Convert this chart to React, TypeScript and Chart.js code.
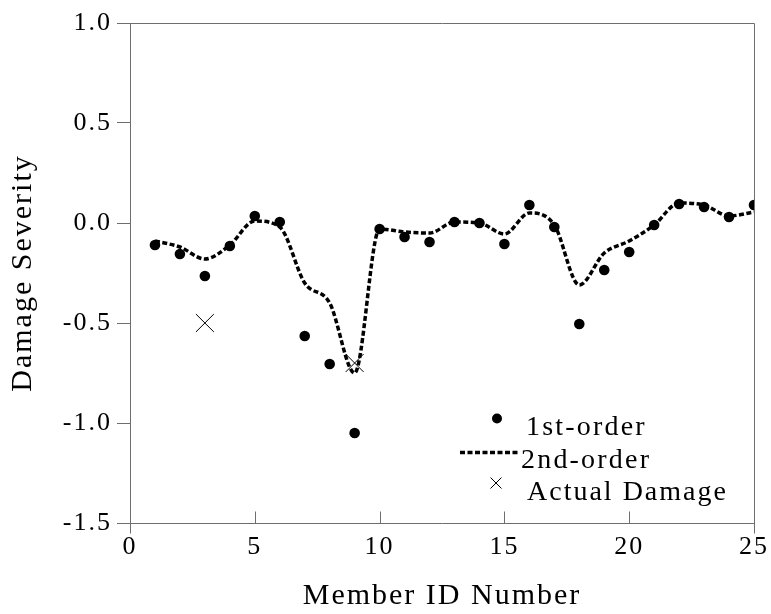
import React, { useEffect, useRef } from 'react';
import { Chart, registerables } from 'chart.js';

Chart.register(...registerables);

// ---- data ----
const memberIds = [1, 2, 3, 4, 5, 6, 7, 8, 9, 10, 11, 12, 13, 14, 15, 16, 17, 18, 19, 20, 21, 22, 23, 24, 25];
const firstOrder = [-0.11, -0.155, -0.265, -0.115, 0.035, 0.005, -0.565, -0.705, -1.05, -0.03, -0.07, -0.095, 0.005, 0.0, -0.105, 0.09, -0.02, -0.505, -0.235, -0.145, -0.01, 0.095, 0.08, 0.03, 0.09];
const secondOrder = [-0.09, -0.12, -0.18, -0.11, 0.01, -0.02, -0.3, -0.4, -0.75, -0.03, -0.045, -0.05, 0.005, 0.0, -0.055, 0.05, -0.01, -0.31, -0.15, -0.09, -0.01, 0.1, 0.09, 0.035, 0.055];
const actualIds = [3, 9];
const actualDamage = [-0.5, -0.7];
const xTicks = [0, 5, 10, 15, 20, 25];
const yTicks = [-1.5, -1.0, -0.5, 0.0, 0.5, 1.0];
const seriesNames = ['1st-order', '2nd-order', 'Actual Damage'];

const SERIF = '"Liberation Serif", "Times New Roman", serif';
const AXIS = '#6e6e6e';

const framePlugin = {
  id: 'frame',
  beforeDraw(chart: any) {
    chart.ctx.letterSpacing = '2px';
  },
  afterDatasetsDraw(chart: any) {
    const { ctx, chartArea, scales } = chart;
    const { left, right, top, bottom } = chartArea;
    const x = scales.x;
    ctx.save();
    ctx.strokeStyle = AXIS;
    ctx.lineWidth = 1;
    ctx.beginPath();
    const t = Math.round(top) + 0.5;
    const r = Math.round(right) + 0.5;
    const l = Math.round(left) + 0.5;
    const b = Math.round(bottom) + 0.5;
    ctx.moveTo(l, t);
    ctx.lineTo(r, t);
    ctx.moveTo(r, t);
    ctx.lineTo(r, b + 10);
    ctx.moveTo(l, b);
    ctx.lineTo(l, b + 10);
    xTicks.forEach((v) => {
      if (v === xTicks[0] || v === xTicks[xTicks.length - 1]) return;
      const px = Math.round(x.getPixelForValue(v)) + 0.5;
      ctx.moveTo(px, b);
      ctx.lineTo(px, b - 12);
    });
    ctx.stroke();
    ctx.restore();
  },
  afterDraw(chart: any) {
    const { ctx, chartArea } = chart;
    const { right, bottom } = chartArea;
    ctx.save();
    ctx.letterSpacing = '2.2px';
    ctx.fillStyle = '#000';
    ctx.strokeStyle = '#000';
    ctx.font = `28px ${SERIF}`;
    ctx.textAlign = 'left';
    ctx.textBaseline = 'alphabetic';
    // 1st-order marker
    ctx.beginPath();
    ctx.arc(right - 257, bottom - 104.5, 5, 0, Math.PI * 2);
    ctx.fill();
    ctx.fillText(seriesNames[0], right - 228, bottom - 88);
    // 2nd-order sample
    ctx.beginPath();
    ctx.lineWidth = 3.5;
    ctx.setLineDash([5, 2.5]);
    ctx.moveTo(right - 294, bottom - 70.5);
    ctx.lineTo(right - 234, bottom - 70.5);
    ctx.stroke();
    ctx.setLineDash([]);
    ctx.fillText(seriesNames[1], right - 233, bottom - 55);
    // Actual damage marker
    ctx.beginPath();
    ctx.lineWidth = 1;
    const cx = right - 258, cy = bottom - 40, h = 5.5;
    ctx.moveTo(cx - h, cy - h);
    ctx.lineTo(cx + h, cy + h);
    ctx.moveTo(cx + h, cy - h);
    ctx.lineTo(cx - h, cy + h);
    ctx.stroke();
    ctx.letterSpacing = '2px';
    ctx.fillText(seriesNames[2], right - 227, bottom - 23);
    ctx.restore();
  },
};

export default function App() {
  const canvasRef = useRef<HTMLCanvasElement | null>(null);

  useEffect(() => {
    const canvas = canvasRef.current;
    if (!canvas) return;
    const chart = new Chart(canvas, {
      type: 'line',
      data: {
        datasets: [
          {
            label: seriesNames[1],
            data: memberIds.map((id, i) => ({ x: id, y: secondOrder[i] })),
            borderColor: '#000',
            backgroundColor: '#000',
            borderWidth: 3.5,
            borderDash: [5, 2.5],
            pointRadius: 0,
            cubicInterpolationMode: 'monotone',
            showLine: true,
            fill: false,
            order: 2,
          },
          {
            label: seriesNames[0],
            data: memberIds.map((id, i) => ({ x: id, y: firstOrder[i] })),
            borderColor: '#000',
            backgroundColor: '#000',
            showLine: false,
            pointStyle: 'circle',
            pointRadius: 5.3,
            pointBorderWidth: 0,
            order: 1,
          },
          {
            label: seriesNames[2],
            data: actualIds.map((id, i) => ({ x: id, y: actualDamage[i] })),
            borderColor: '#000',
            backgroundColor: '#000',
            showLine: false,
            pointStyle: 'crossRot',
            pointRadius: 12.7,
            pointBorderWidth: 1,
            order: 0,
          },
        ],
      } as any,
      options: {
        responsive: false,
        maintainAspectRatio: false,
        devicePixelRatio: 1,
        animation: false,
        events: [],
        layout: { padding: { top: 23, right: 17, bottom: 0, left: 0 } },
        plugins: {
          legend: { display: false },
          tooltip: { enabled: false },
          title: { display: false },
        },
        scales: {
          x: {
            type: 'linear',
            min: 0,
            max: 25,
            afterBuildTicks: (s: any) => {
              s.ticks = xTicks.map((v) => ({ value: v }));
            },
            afterFit: (s: any) => {
              s.height = 91;
              s.paddingLeft = 0;
              s.paddingRight = 0;
            },
            ticks: {
              color: '#000',
              font: { family: SERIF, size: 26 },
              padding: 9,
              maxRotation: 0,
              autoSkip: false,
            },
            grid: { display: false, drawTicks: false },
            border: { display: true, color: AXIS, width: 1 },
            title: {
              display: true,
              text: 'Member ID Number',
              color: '#000',
              font: { family: SERIF, size: 30 },
              padding: { top: 0, bottom: 0 },
            },
          },
          y: {
            type: 'linear',
            min: -1.5,
            max: 1.0,
            afterBuildTicks: (s: any) => {
              s.ticks = yTicks.map((v) => ({ value: v }));
            },
            afterFit: (s: any) => {
              s.width = 130;
              s.paddingTop = 0;
              s.paddingBottom = 0;
            },
            ticks: {
              color: '#000',
              font: { family: SERIF, size: 26 },
              padding: 5,
              callback: (v: any) => Number(v).toFixed(1),
            },
            grid: { drawOnChartArea: false, drawTicks: true, tickLength: 13, color: AXIS, lineWidth: 1 },
            border: { display: true, color: AXIS, width: 1 },
            title: {
              display: true,
              text: 'Damage Severity',
              color: '#000',
              font: { family: SERIF, size: 30 },
              padding: { top: 5, bottom: 0 },
            },
          },
        },
      } as any,
      plugins: [framePlugin],
    });
    return () => chart.destroy();
  }, []);

  return (
    <div style={{ position: 'absolute', left: 0, top: 0, width: 771, height: 614, background: '#fff' }}>
      <canvas ref={canvasRef} width={771} height={614} style={{ display: 'block' }} />
    </div>
  );
}
